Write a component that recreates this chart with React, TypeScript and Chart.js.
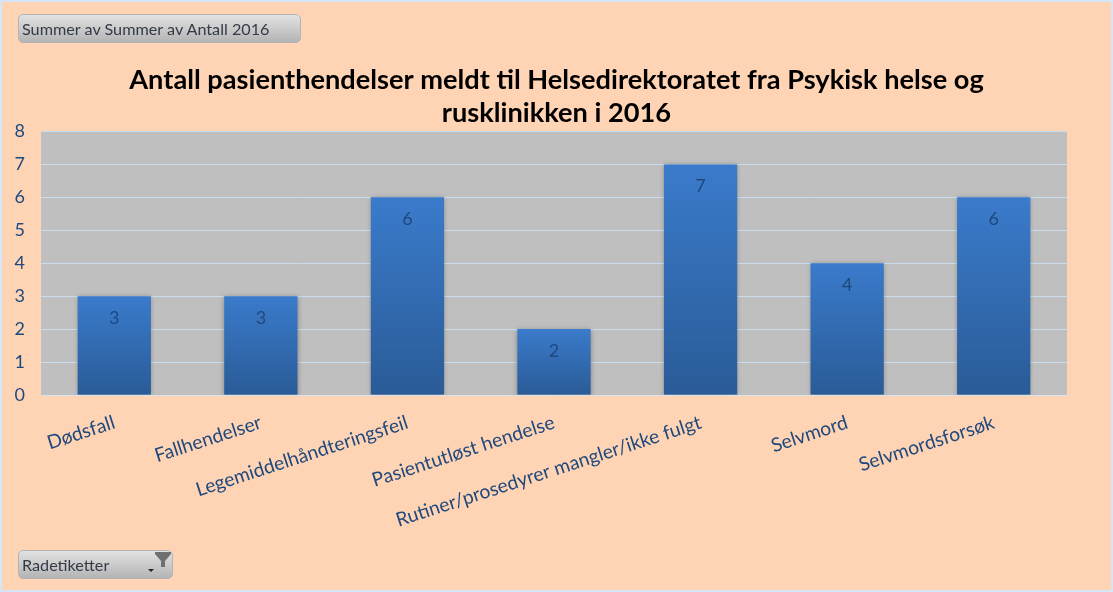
import React, { useEffect, useRef } from "react";
import { Chart, registerables } from "chart.js";

Chart.register(...registerables);

const categories = [
  "Dødsfall",
  "Fallhendelser",
  "Legemiddelhåndteringsfeil",
  "Pasientutløst hendelse",
  "Rutiner/prosedyrer mangler/ikke fulgt",
  "Selvmord",
  "Selvmordsforsøk",
];
const values = [3, 3, 6, 2, 7, 4, 6];
const titleLines = [
  "Antall pasienthendelser meldt til Helsedirektoratet fra Psykisk helse og",
  "rusklinikken i 2016",
];
const valueFieldLabel = "Summer av Summer av Antall 2016";
const rowFieldLabel = "Radetiketter";

const FONT = "Lato, 'Open Sans', sans-serif";
const TEXT_BLUE = "#1F497D";

const plotBackground = {
  id: "plotBackground",
  beforeDraw(chart: any) {
    const { ctx, chartArea: a } = chart;
    ctx.save();
    ctx.fillStyle = "#BFBFBF";
    ctx.fillRect(a.left, a.top, a.right - a.left, a.bottom - a.top);
    ctx.restore();
  },
};

const barShadow = {
  id: "barShadow",
  beforeDatasetsDraw(chart: any) {
    const { ctx } = chart;
    ctx.save();
    ctx.shadowColor = "rgba(0,0,0,0.3)";
    ctx.shadowBlur = 5;
    ctx.shadowOffsetY = 1;
  },
  afterDatasetsDraw(chart: any) {
    chart.ctx.restore();
  },
};

const barValues = {
  id: "barValues",
  afterDatasetsDraw(chart: any) {
    const { ctx } = chart;
    const meta = chart.getDatasetMeta(0);
    ctx.save();
    ctx.shadowColor = "transparent";
    ctx.fillStyle = TEXT_BLUE;
    ctx.font = `18px ${FONT}`;
    ctx.textAlign = "center";
    ctx.textBaseline = "middle";
    meta.data.forEach((el: any, i: number) => {
      ctx.fillText(String(values[i]), el.x, el.y + 22);
    });
    ctx.restore();
  },
};

const pill: React.CSSProperties = {
  position: "absolute",
  boxSizing: "border-box",
  borderRadius: 5,
  border: "1px solid #B4B4B4",
  background: "linear-gradient(#E2E2E2, #B4B4B4)",
  color: "#333B47",
  fontFamily: FONT,
  fontSize: 16.2,
  lineHeight: "28px",
  paddingLeft: 3,
  whiteSpace: "nowrap",
};

export default function App() {
  const ref = useRef<HTMLCanvasElement>(null);

  useEffect(() => {
    const chart = new Chart(ref.current!, {
      type: "bar",
      data: {
        labels: categories,
        datasets: [
          {
            data: values,
            barPercentage: 0.5,
            categoryPercentage: 1,
            backgroundColor: (c: any) => {
              const { ctx, scales, chartArea } = c.chart;
              if (!chartArea) return "#3476C0";
              const top = scales.y.getPixelForValue(c.raw ?? 0);
              const bottom = scales.y.getPixelForValue(0);
              const g = ctx.createLinearGradient(0, top, 0, bottom);
              g.addColorStop(0, "#3A7BCB");
              g.addColorStop(1, "#2A5B97");
              return g;
            },
          },
        ],
      },
      options: {
        responsive: false,
        animation: false,
        layout: { autoPadding: false, padding: 0 },
        plugins: {
          legend: { display: false },
          tooltip: { enabled: false },
          title: {
            display: true,
            text: titleLines,
            color: "#000000",
            font: { family: FONT, size: 27.2, weight: "bold", lineHeight: 1.213 },
            padding: { top: 64, bottom: 1.5 },
          },
        },
        scales: {
          x: {
            afterFit: (s: any) => {
              s.height = 197;
            },
            grid: { display: false, drawTicks: false },
            border: { display: true, color: "#D5E3F0", width: 1 },
            ticks: {
              color: TEXT_BLUE,
              font: { family: FONT, size: 19.3 },
              minRotation: 18,
              maxRotation: 18,
              autoSkip: false,
              padding: 16,
            },
          },
          y: {
            min: 0,
            max: 8,
            afterFit: (s: any) => {
              s.width = 41;
            },
            grid: { color: "#C9DDF0", lineWidth: 1, drawTicks: false },
            border: { display: false },
            ticks: {
              stepSize: 1,
              color: TEXT_BLUE,
              font: { family: FONT, size: 18 },
              padding: 16,
            },
          },
          rightGutter: {
            position: "right",
            afterFit: (s: any) => {
              s.width = 46;
            },
            grid: { display: false, drawTicks: false },
            border: { display: false },
            ticks: { display: false },
          },
        },
      },
      plugins: [plotBackground, barShadow, barValues],
    } as any);
    return () => chart.destroy();
  }, []);

  return (
    <div
      style={{
        position: "absolute",
        left: 0,
        top: 0,
        width: 1113,
        height: 592,
        background: "#FFD4B4",
        overflow: "hidden",
      }}
    >
      <canvas ref={ref} width={1113} height={592} style={{ position: "absolute", left: 0, top: 0 }} />
      <div style={{ ...pill, left: 18, top: 14, width: 283, height: 29 }}>{valueFieldLabel}</div>
      <div style={{ ...pill, left: 18, top: 550, width: 155, height: 29 }}>
        {rowFieldLabel}
        <svg width="30" height="28" style={{ position: "absolute", right: 0, top: 0 }}>
          <path d="M6 18 L12 18 L9 21 Z" fill="#222" />
          <path d="M13 1 L29 1 L29 3 L23 10 L23 16 L19 16 L19 10 L13 3 Z" fill="#707070" />
        </svg>
      </div>
      <div
        style={{
          position: "absolute",
          inset: 0,
          boxSizing: "border-box",
          border: "2px solid #D6E6F8",
          pointerEvents: "none",
        }}
      />
    </div>
  );
}
